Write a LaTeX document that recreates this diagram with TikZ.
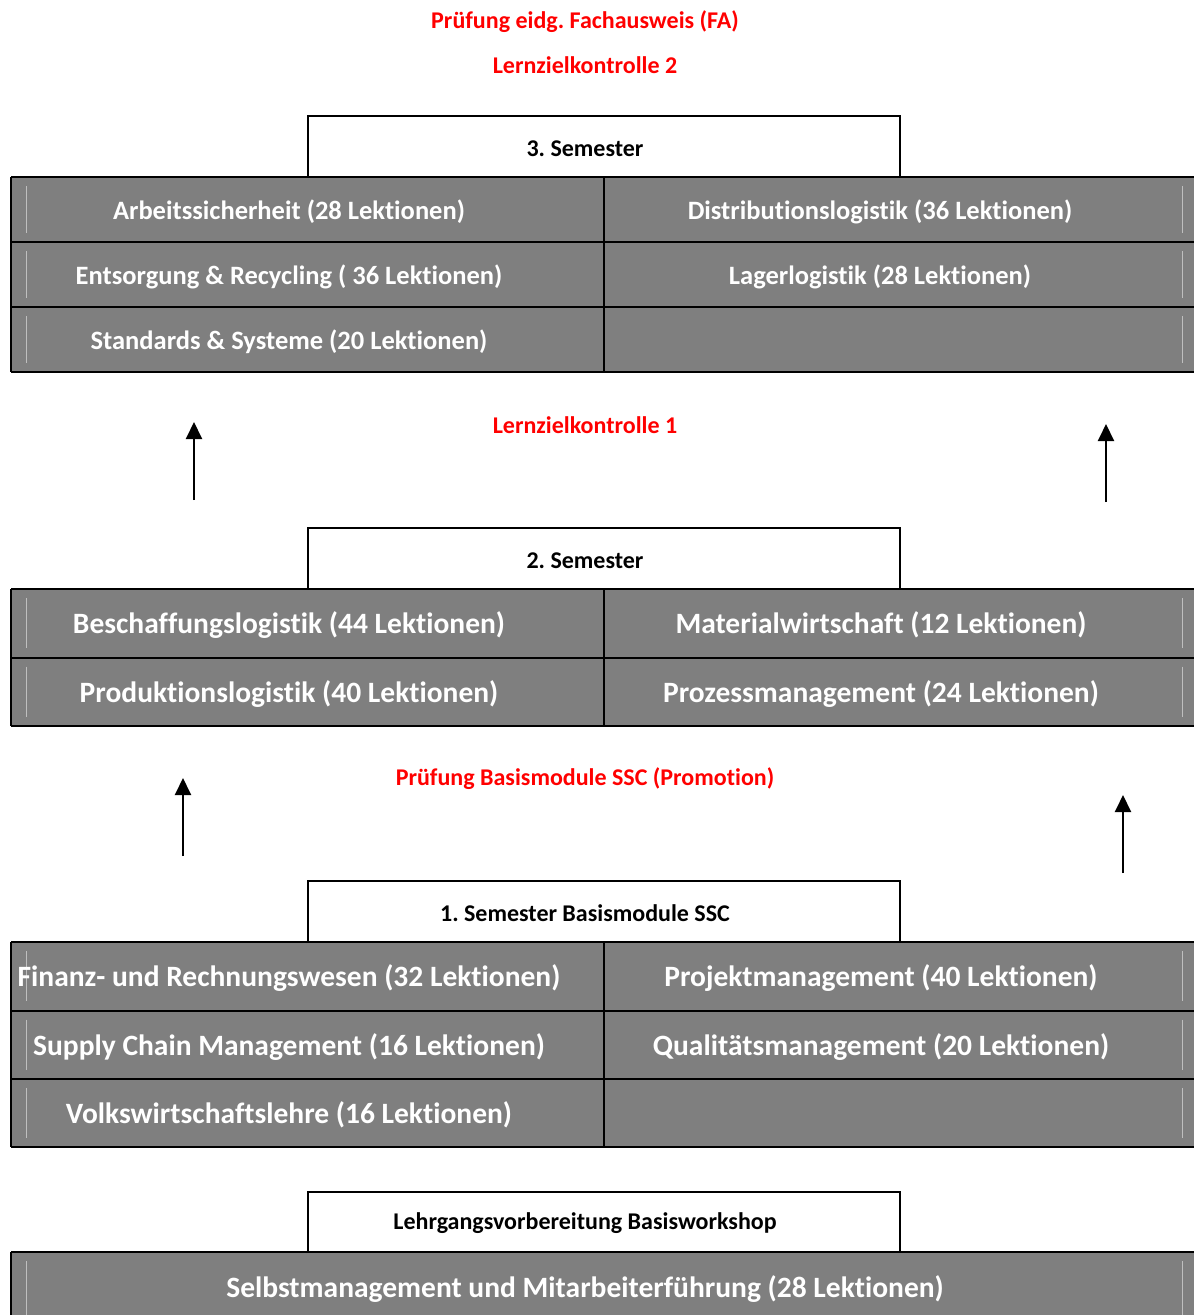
\documentclass[tikz,border=0pt]{standalone}
\usepackage{fontspec}
\setmainfont{Carlito}[Ligatures=NoCommon]
\usetikzlibrary{arrows.meta}
\definecolor{cellgray}{HTML}{7F7F7F}
\definecolor{faintgray}{HTML}{BFBFBF}
\definecolor{examred}{HTML}{FF0000}
\frenchspacing
\begin{document}
\begin{tikzpicture}[x=1pt,y=-1pt,
    grid/.style={line width=2pt,black},
    faint/.style={line width=1pt,faintgray},
    headbox/.style={line width=2pt,black},
    headtext/.style={yshift=-1.5pt,font=\fontsize{24}{28}\selectfont\bfseries,black},
    exam/.style={yshift=-1.5pt,font=\fontsize{24}{28}\selectfont\bfseries,examred},
    small/.style={yshift=-2pt,font=\fontsize{26.5}{31}\selectfont\bfseries,white},
    large/.style={yshift=-2pt,font=\fontsize{29.5}{34}\selectfont\bfseries,white},
    up/.style={line width=2pt,-{Triangle[width=16pt,length=17pt]}}]
  \useasboundingbox (0,0) rectangle (1194,1315);
  % Pruefungen
  \node [exam] (FA) at (585,20) {Prüfung eidg. Fachausweis (FA)};
  \node [exam] (LZK2) at (585,64) {Lernzielkontrolle 2};
  % 3. Semester
  \draw [headbox] (308,177) -- (308,116) -- (900,116) -- (900,177);
  \node [headtext] (S3) at (585,147) {3. Semester};
  \fill [cellgray] (11,177) rectangle (1194,372);
  \foreach \y in {177,242,307}{
    \draw [faint] (26,\y+9) -- (26,\y+56);
    \draw [faint] (1182,\y+9) -- (1182,\y+56);
  }
  \foreach \y in {177,242,307,372}
    \draw [grid] (11,\y) -- (1194,\y);
  \draw [grid] (11,177) -- (11,372);
  \draw [grid] (604,177) -- (604,372);
  \node [small] (arbeit) at (289,210) {Arbeitssicherheit (28 Lektionen)};
  \node [small] (distri) at (880,210) {Distributionslogistik (36 Lektionen)};
  \node [small] (entsorg) at (289,275) {Entsorgung \& Recycling ( 36 Lektionen)};
  \node [small] (lager) at (880,275) {Lagerlogistik (28 Lektionen)};
  \node [small] (standard) at (289,340) {Standards \& Systeme (20 Lektionen)};
  % Lernzielkontrolle 1
  \node [exam] (LZK1) at (585,424) {Lernzielkontrolle 1};
  \coordinate (A2 left) at (194,500);
  \coordinate (A3 left) at (194,422);
  \coordinate (A2 right) at (1106,502);
  \coordinate (A3 right) at (1106,424);
  \draw [up] (A2 left) -- (A3 left);
  \draw [up] (A2 right) -- (A3 right);
  % 2. Semester
  \draw [headbox] (308,589) -- (308,528) -- (900,528) -- (900,589);
  \node [headtext] (S2) at (585,559) {2. Semester};
  \fill [cellgray] (11,589) rectangle (1194,726);
  \foreach \y in {589,657.5}{
    \draw [faint] (26,\y+9) -- (26,\y+59);
    \draw [faint] (1182,\y+9) -- (1182,\y+59);
  }
  \foreach \y in {589,657.5,726}
    \draw [grid] (11,\y) -- (1194,\y);
  \draw [grid] (11,589) -- (11,726);
  \draw [grid] (604,589) -- (604,726);
  \node [large] (beschaff) at (289,623) {Beschaffungslogistik (44 Lektionen)};
  \node [large] (material) at (881,623) {Materialwirtschaft (12 Lektionen)};
  \node [large] (produkt) at (289,692) {Produktionslogistik (40 Lektionen)};
  \node [large] (prozess) at (881,692) {Prozessmanagement (24 Lektionen)};
  % Promotion
  \node [exam] (promo) at (585,777) {Prüfung Basismodule SSC (Promotion)};
  \coordinate (A1 left) at (183,856);
  \coordinate (A2b left) at (183,778);
  \coordinate (A1 right) at (1123,873);
  \coordinate (A2b right) at (1123,795);
  \draw [up] (A1 left) -- (A2b left);
  \draw [up] (A1 right) -- (A2b right);
  % 1. Semester
  \draw [headbox] (308,942) -- (308,881) -- (900,881) -- (900,942);
  \node [headtext] (S1) at (585,912) {1. Semester Basismodule SSC};
  \fill [cellgray] (11,942) rectangle (1194,1147);
  \foreach \y in {942,1010.5,1079}{
    \draw [faint] (26,\y+9) -- (26,\y+59);
    \draw [faint] (1182,\y+9) -- (1182,\y+59);
  }
  \foreach \y in {942,1010.5,1079,1147}
    \draw [grid] (11,\y) -- (1194,\y);
  \draw [grid] (11,942) -- (11,1147);
  \draw [grid] (604,942) -- (604,1147);
  \node [large] (finanz) at (289,976) {Finanz- und Rechnungswesen (32 Lektionen)};
  \node [large] (projekt) at (881,976) {Projektmanagement (40 Lektionen)};
  \node [large] (supply) at (289,1045) {Supply Chain Management (16 Lektionen)};
  \node [large] (quali) at (881,1045) {Qualitätsmanagement (20 Lektionen)};
  \node [large] (vwl) at (289,1113) {Volkswirtschaftslehre (16 Lektionen)};
  % Vorbereitung
  \draw [headbox] (308,1252) -- (308,1192) -- (900,1192) -- (900,1252);
  \node [headtext] (S0) at (585,1222) {Lehrgangsvorbereitung Basisworkshop};
  \fill [cellgray] (11,1252) rectangle (1194,1320);
  \draw [faint] (26,1261) -- (26,1320);
  \draw [faint] (1182,1261) -- (1182,1320);
  \draw [grid] (11,1252) -- (1194,1252);
  \draw [grid] (11,1252) -- (11,1320);
  \node [large] (selbst) at (585,1287) {Selbstmanagement und Mitarbeiterführung (28 Lektionen)};
\end{tikzpicture}
\end{document}
